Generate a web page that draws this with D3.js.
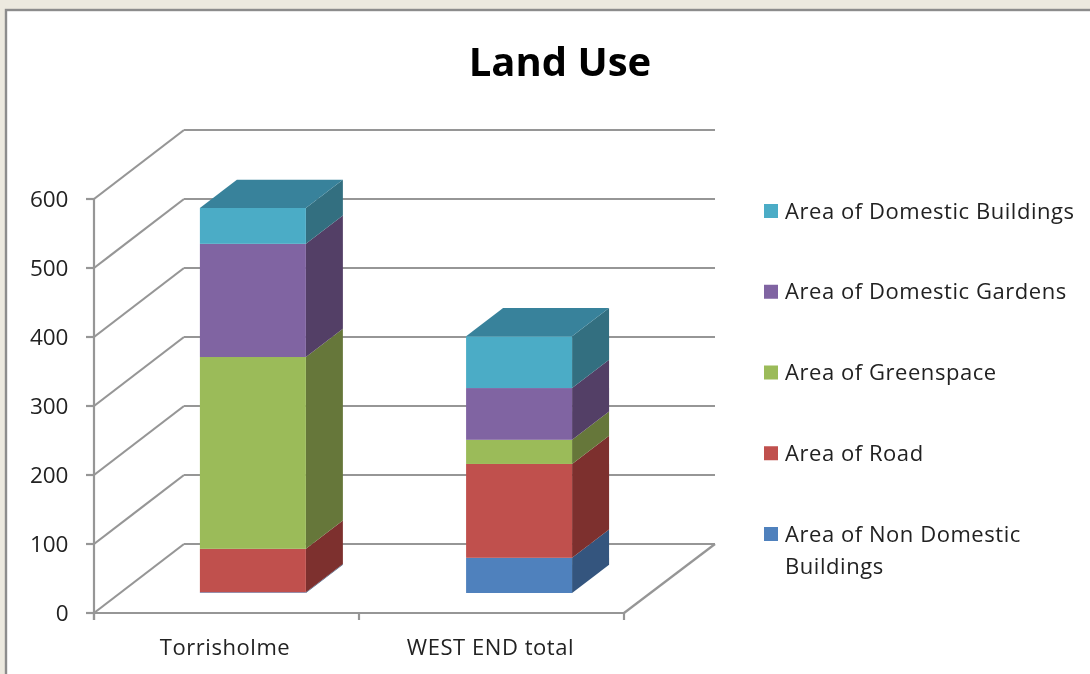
<!DOCTYPE html>
<html><head><meta charset="utf-8">
<script src="https://cdn.jsdelivr.net/npm/d3@7"></script>
<style>html,body{margin:0;padding:0;background:#ece9df;overflow:hidden}svg{display:block;filter:blur(0.35px)}text{font-family:"Open Sans",sans-serif;fill:#222}</style>
</head><body><svg id="c" width="1090" height="674"></svg>
<script>
const categories = ["Torrisholme", "WEST END total"];
const seriesNames = ["Area of Non Domestic Buildings", "Area of Road", "Area of Greenspace", "Area of Domestic Gardens", "Area of Domestic Buildings"];
const nonDomestic = [1, 51];
const road = [63, 136];
const greenspace = [278, 35];
const gardens = [164, 75];
const domestic = [52, 75];
const yTicks = [0, 100, 200, 300, 400, 500, 600];
const frontColors = ["#4f81bd", "#c0504d", "#9bbb59", "#8064a2", "#4bacc6"];
const sideColors = ["#34557e", "#7d302e", "#66773a", "#533f66", "#336f80"];
const topColor = "#38829b";

const seriesValues = [nonDomestic, road, greenspace, gardens, domestic];
const svg = d3.select("#c");
svg.append("rect").attr("x", 6).attr("y", 10).attr("width", 1090).attr("height", 680)
  .attr("fill", "#fff").attr("stroke", "#8c8c8c").attr("stroke-width", 2.4);

const x = d3.scaleBand().domain(categories).range([94, 624]);
const y = d3.scaleLinear().domain([0, 600]).range([613, 199]);
// depth: 0 = front of floor, 1 = back wall
const dx = d3.scaleLinear().domain([0, 1]).range([0, 91]);
const dy = d3.scaleLinear().domain([0, 1]).range([0, -69]);
const grid = "#969696";
const g = svg.append("g");
const line = (x1, y1, x2, y2, w = 2.2) => g.append("line").attr("x1", x1).attr("y1", y1).attr("x2", x2).attr("y2", y2)
  .attr("stroke", grid).attr("stroke-width", w);

// walls
yTicks.forEach(t => {
  line(94, y(t), 94 + dx(1) - 1, y(t) + dy(1));
  line(94 + dx(1) - 1, y(t) + dy(1), 624 + dx(1), y(t) + dy(1));
  line(86, y(t), 94, y(t));
  svg.append("text").attr("x", 68.5).attr("y", y(t) + 7.5).attr("text-anchor", "end").attr("font-size", 22.5).text(t);
});
line(94, y(600), 94, y(0) + 7);
line(94, y(0), 624, y(0));
line(624, y(0), 624 + dx(1), y(0) + dy(1));
[94, 359, 624].forEach(v => line(v, y(0), v, y(0) + 7));

// bars
const zFront = 0.29, zBack = 0.70;
const pts = p => p.map(q => q.join(",")).join(" ");
categories.forEach((c, i) => {
  const bw = x.bandwidth() * 0.4;
  const x0 = x(c) + (x.bandwidth() - bw) / 2 + dx(zFront) + i * 1.2;
  const x1 = x0 + bw;
  const shift = 37;
  const yF = v => y(v) + dy(zFront);
  const lift = dy(zBack) - dy(zFront);
  let acc = 0;
  seriesValues.forEach((vals, s) => {
    const a = acc, b = acc + vals[i];
    acc = b;
    g.append("polygon").attr("fill", sideColors[s])
      .attr("points", pts([[x1, yF(a)], [x1 + shift, yF(a) + lift], [x1 + shift, yF(b) + lift], [x1, yF(b)]]));
    g.append("rect").attr("x", x0).attr("y", yF(b)).attr("width", bw).attr("height", yF(a) - yF(b)).attr("fill", frontColors[s]);
  });
  g.append("polygon").attr("fill", topColor)
    .attr("points", pts([[x0, yF(acc)], [x1, yF(acc)], [x1 + shift, yF(acc) + lift], [x0 + shift, yF(acc) + lift]]));
  svg.append("text").attr("x", x(c) + x.bandwidth() / 2 - (i ? 1 : 1.5)).attr("y", 655).attr("text-anchor", "middle")
    .attr("font-size", 22).attr("letter-spacing", 0.55).text(c);
});

// title
svg.append("text").attr("x", 560).attr("y", 76).attr("text-anchor", "middle").attr("font-size", 40).attr("font-weight", 700).style("fill", "#000").text("Land Use");

// legend
const legendY = d3.scalePoint().domain(d3.range(5)).range([534, 211]);
seriesNames.forEach((n, s) => {
  const ly = legendY(s);
  svg.append("rect").attr("x", 764).attr("y", ly - 7).attr("width", 14).attr("height", 14).attr("fill", frontColors[s]);
  const t = svg.append("text").attr("x", 785).attr("y", ly + 7.5).attr("font-size", 22).attr("letter-spacing", 0.55);
  if (s === 0) {
    t.append("tspan").attr("x", 785).text("Area of Non Domestic");
    t.append("tspan").attr("x", 785).attr("dy", 32).text("Buildings");
  } else t.text(n);
});
</script></body></html>
